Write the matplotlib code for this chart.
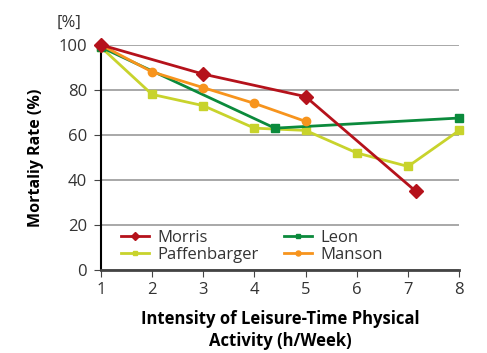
import matplotlib
matplotlib.use("Agg")
import matplotlib.pyplot as plt

# 数据：读图估计
morris_x = [1, 3, 5, 7.15]
morris_y = [100, 87, 77, 35]
paff_x = [1, 2, 3, 4, 5, 6, 7, 8]
paff_y = [99, 78, 73, 63, 62, 52, 46, 62]
leon_x = [1, 4.4, 8]
leon_y = [99, 63, 67.5]
manson_x = [1, 2, 3, 4, 5]
manson_y = [100, 88, 81, 74, 66]

plt.rcParams['font.family'] = ['Open Sans', 'DejaVu Sans']

fig = plt.figure(figsize=(4.87, 3.53), dpi=100)
ax = fig.add_axes([0.207, 0.235, 0.736, 0.638])

ax.plot(morris_x, morris_y, color="#b5121b", lw=2, marker="D", ms=7.5, label="Morris", clip_on=False, zorder=5)
ax.plot(paff_x, paff_y, color="#c8d32c", lw=2, marker="s", ms=6, label="Paffenbarger", clip_on=False, zorder=3)
ax.plot(leon_x, leon_y, color="#0b8a3c", lw=2, marker="s", ms=6, label="Leon", clip_on=False, zorder=4)
ax.plot(manson_x, manson_y, color="#f7941d", lw=2, marker="o", ms=6, label="Manson", clip_on=False, zorder=4)

ax.set_xlim(1, 8)
ax.set_ylim(0, 100)
ax.set_xticks(range(1, 9))
ax.set_yticks(range(0, 101, 20))
ax.yaxis.grid(True, color="#999999", lw=1.2)
ax.set_axisbelow(True)
for s in ("top", "right"):
    ax.spines[s].set_visible(False)
ax.spines["left"].set_color("black")
ax.spines["left"].set_linewidth(1.5)
ax.spines["bottom"].set_color("#444444")
ax.spines["bottom"].set_linewidth(2)
ax.tick_params(axis="both", labelsize=12, length=5, color="#444444", labelcolor="#333333")
ax.tick_params(axis="y", pad=5)

ax.set_xlabel("Intensity of Leisure-Time Physical\nActivity (h/Week)", fontsize=12, fontweight="bold",
              labelpad=9, linespacing=1.25)
ax.set_ylabel("Mortaliy Rate (%)", fontsize=11.5, fontweight="bold", labelpad=10)
ax.text(-0.053, 1.06, "[%]", transform=ax.transAxes, ha="right", va="bottom", fontsize=12, color="#333333")

ax.legend(ncol=2, loc="lower left", bbox_to_anchor=(0.035, 0.0), frameon=False, fontsize=12,
          handlelength=1.7, handletextpad=0.5, columnspacing=1.5, labelspacing=0.05,
          borderaxespad=0.05, markerscale=0.6, labelcolor="#333333")

fig.savefig("out.png", dpi=100)
